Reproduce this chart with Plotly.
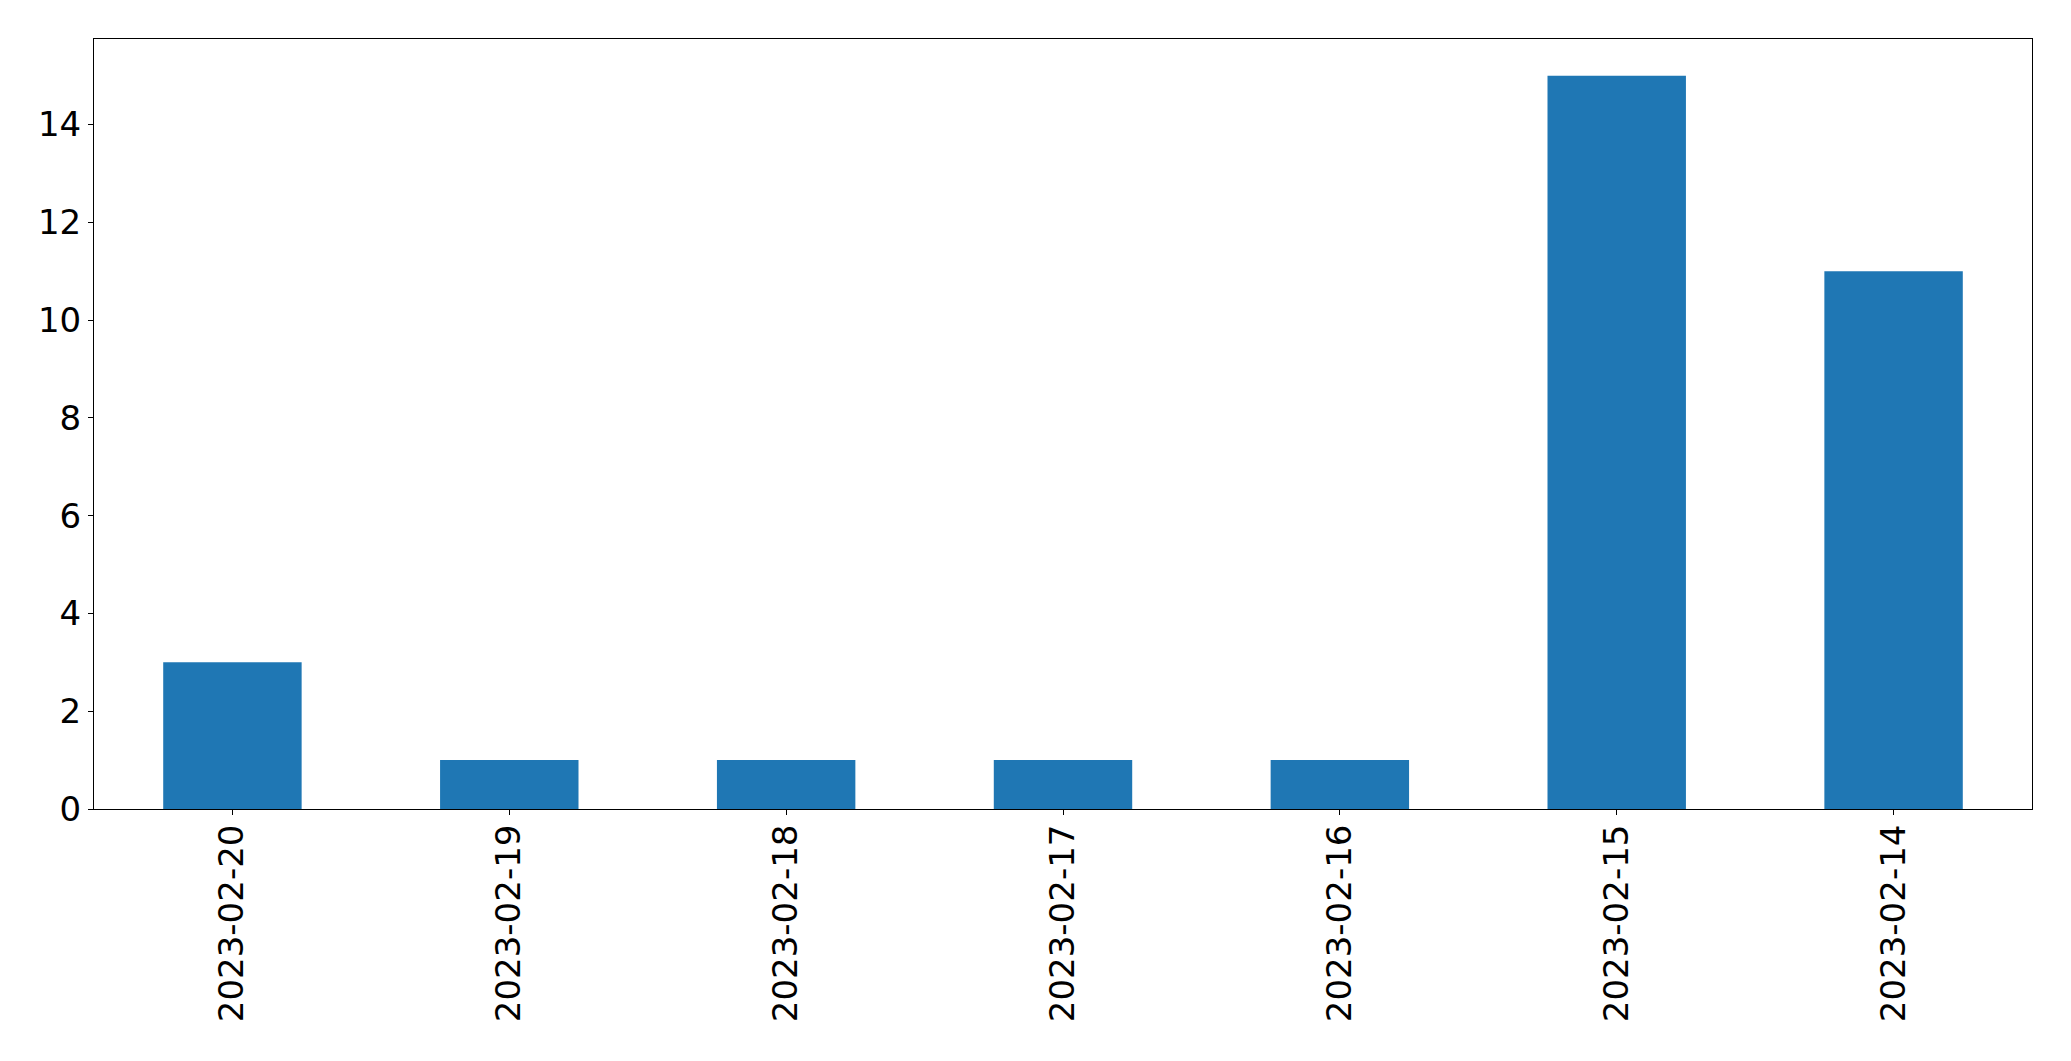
import plotly.graph_objects as go

dates = ["2023-02-20", "2023-02-19", "2023-02-18", "2023-02-17", "2023-02-16", "2023-02-15", "2023-02-14"]
counts = [3, 1, 1, 1, 1, 15, 11]
y_ticks = [0, 2, 4, 6, 8, 10, 12, 14]

fig = go.Figure()
fig.add_trace(go.Bar(x=dates, y=counts, width=0.5, marker=dict(color="#1f77b4", line=dict(width=0))))

font = dict(family="DejaVu Sans", size=34, color="black")
fig.update_layout(
    width=2055, height=1045,
    margin=dict(l=86, r=31, t=31, b=244, autoexpand=False),
    paper_bgcolor="white", plot_bgcolor="white",
    showlegend=False,
    font=font,
)
fig.update_xaxes(
    type="category", range=[-0.5, 6.5], tickangle=-90,
    showline=True, mirror=True, linecolor="black", linewidth=1,
    ticks="outside", ticklen=5, tickwidth=1, tickcolor="black",
    showgrid=False, zeroline=False, tickfont=font, ticklabelstandoff=-4,
)
fig.update_yaxes(
    range=[0, 15.75], tickvals=y_ticks,
    showline=True, mirror=True, linecolor="black", linewidth=1,
    ticks="outside", ticklen=5, tickwidth=1, tickcolor="black",
    showgrid=False, zeroline=False, tickfont=font,
)
fig.write_html("out.html")
